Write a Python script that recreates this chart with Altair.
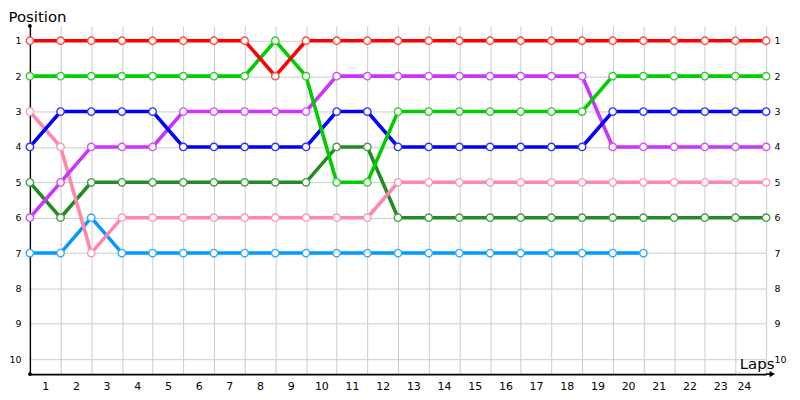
import altair as alt
import pandas as pd

laps = list(range(25))
lap_labels = [str(i) for i in range(1, 25)]
red = [1,1,1,1,1,1,1,1,2,1,1,1,1,1,1,1,1,1,1,1,1,1,1,1,1]
green = [2,2,2,2,2,2,2,2,1,2,5,5,3,3,3,3,3,3,3,2,2,2,2,2,2]
blue = [4,3,3,3,3,4,4,4,4,4,3,3,4,4,4,4,4,4,4,3,3,3,3,3,3]
purple = [6,5,4,4,4,3,3,3,3,3,2,2,2,2,2,2,2,2,2,4,4,4,4,4,4]
pink = [3,4,7,6,6,6,6,6,6,6,6,6,5,5,5,5,5,5,5,5,5,5,5,5,5]
dgreen = [5,6,5,5,5,5,5,5,5,5,4,4,6,6,6,6,6,6,6,6,6,6,6,6,6]
lblue = [7,7,6,7,7,7,7,7,7,7,7,7,7,7,7,7,7,7,7,7,7]

series = {
    "lblue": lblue,
    "dgreen": dgreen,
    "pink": pink,
    "purple": purple,
    "blue": blue,
    "green": green,
    "red": red,
}
line_colors = {
    "red": "#ff0000", "green": "#00cc00", "blue": "#0000ff", "purple": "#cc33ff",
    "pink": "#ff88aa", "dgreen": "#228b22", "lblue": "#0099ff",
}
point_colors = {
    "red": "#ff4d4d", "green": "#33cc33", "blue": "#3333ff", "purple": "#cc55ff",
    "pink": "#ff99bb", "dgreen": "#44a044", "lblue": "#33aaff",
}

rows = []
for order, (name, vals) in enumerate(series.items()):
    for lap, pos in zip(laps, vals):
        rows.append({"lap": lap, "pos": pos, "driver": name, "order": order})
df = pd.DataFrame(rows)

names = list(series.keys())
FONT = "DejaVu Sans"

xscale = alt.Scale(domain=[0, 24], nice=False, zero=False)
yscale = alt.Scale(domain=[0.58, 10.42], reverse=True, nice=False, zero=False)

x_axis = alt.Axis(
    values=list(range(25)), grid=True, gridColor="#cccccc", gridWidth=1,
    ticks=False, domainColor="#000000", domainWidth=1.6, labelOverlap=False,
    labelExpr="datum.value == 0 ? '' : datum.label",
    labelOffset=-15.4, labelPadding=6, labelFont=FONT, labelFontSize=11,
    labelColor="#000000", title="Laps", titleFont=FONT, titleFontSize=15,
    titleFontWeight="normal", titleX=713, titleY=-6, titleAlign="left",
    titleBaseline="alphabetic", titleColor="#000000")

y_enc = alt.Y("pos:Q", scale=yscale, axis=alt.Axis(
    values=list(range(1, 11)), grid=True, gridColor="#cccccc", gridWidth=1,
    ticks=False, domainColor="#000000", domainWidth=1.4, labelOverlap=False,
    labelPadding=9, labelFont=FONT, labelFontSize=9.5, labelColor="#000000",
    title="Position", titleAngle=0, titleFont=FONT, titleFontSize=15,
    titleFontWeight="normal", titleX=-22, titleY=-4, titleAlign="left",
    titleBaseline="alphabetic", titleColor="#000000"))

xs = alt.X("lap:Q", scale=xscale, axis=x_axis, title="Laps")
ys = alt.Y("pos:Q", scale=yscale, axis=None)

color_line = alt.Color("driver:N", scale=alt.Scale(domain=names, range=[line_colors[n] for n in names]), legend=None)

lines = alt.Chart(df).mark_line(strokeWidth=3.6, strokeJoin="miter", clip=False).encode(
    x=xs, y=y_enc, color=color_line, detail="driver:N", order="lap:Q")

points = alt.Chart(df).mark_point(filled=False, fill="white", fillOpacity=1, size=55, strokeWidth=1.4, opacity=1, clip=False).encode(
    x=xs, y=ys, stroke=alt.Stroke("driver:N", scale=alt.Scale(domain=names, range=[point_colors[n] for n in names]), legend=None))

right_axis = alt.Chart(df).mark_point(opacity=0).encode(
    y=alt.Y("pos:Q", scale=yscale, axis=alt.Axis(
        orient="right", values=list(range(1, 11)), grid=False, ticks=False, domain=False,
        labelOverlap=False, labelPadding=8, labelFont=FONT, labelFontSize=9.5,
        labelColor="#000000", title="")))

# axis decorations: arrow at end of x axis, dots at axis ends
deco = pd.DataFrame({"lap": [0, 0], "pos": [0.58, 10.42]})
dots = alt.Chart(deco).mark_point(filled=True, color="#000000", size=14, opacity=1, clip=False).encode(
    x=xs, y=ys)
arrow_df = pd.DataFrame({"lap": [24.0, 24.2], "pos": [10.42, 10.42]})
arrow_line = alt.Chart(arrow_df).mark_line(color="#000000", strokeWidth=1.6, clip=False).encode(
    x=xs, y=ys)
arrow_head = alt.Chart(arrow_df).transform_filter("datum.lap > 24").mark_point(
    shape="triangle-right", filled=True, color="#000000", size=40, opacity=1, clip=False).encode(
    x=xs, y=ys)

chart = alt.layer(lines, points, dots, arrow_line, arrow_head, right_axis).resolve_axis(y="independent").resolve_scale(color="independent").properties(
    width=740, height=350,
    padding={"left": 22, "top": 17, "right": 26, "bottom": 17},
    autosize=alt.AutoSizeParams(type="none"),
).configure_view(stroke=None).configure_axis(labelOverlap=False)

chart.save("out.html", embed_options={"renderer": "svg", "actions": False})
